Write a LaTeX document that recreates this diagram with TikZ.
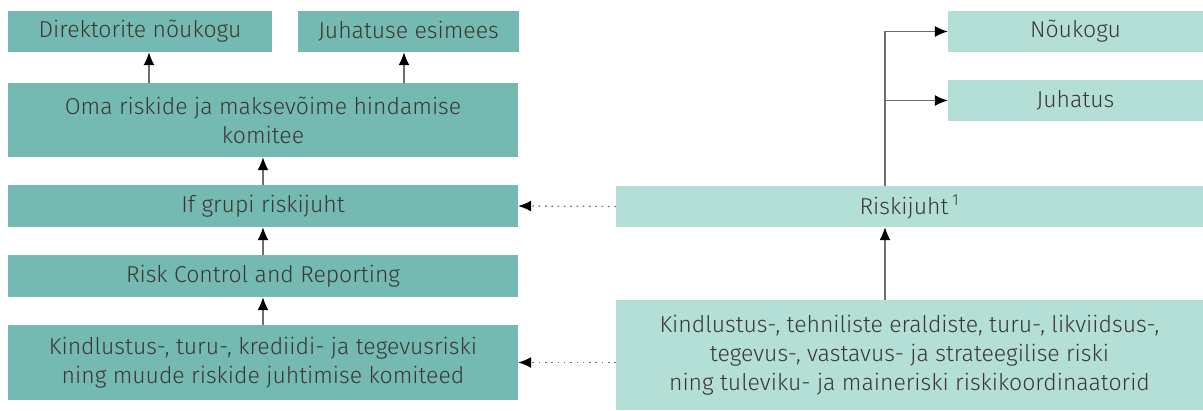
\documentclass[tikz,border=0pt]{standalone}
\usepackage{fontspec}
\setmainfont{Fira Sans}[UprightFont=* Light]
\usetikzlibrary{arrows.meta}

\definecolor{tealdark}{HTML}{74BAB2}
\definecolor{teallight}{HTML}{B4DFD6}
\definecolor{txtgrey}{HTML}{3B3632}
\definecolor{linegrey}{HTML}{6E6E6E}

\tikzset{
	orgbox/.style={rectangle, inner sep=0pt, text=txtgrey, align=center,
		font=\fontsize{23}{29}\selectfont},
	boxdark/.style={orgbox, fill=tealdark},
	boxlight/.style={orgbox, fill=teallight},
	link/.style={draw=linegrey, line width=1.3pt, -{Latex[length=13pt,width=11pt,color=black]}},
	dotlink/.style={link, dash pattern=on 1.5pt off 4.8pt},
}

\begin{document}
\begin{tikzpicture}[x=1pt,y=-1pt]
		\useasboundingbox (0,0) rectangle (1203,410);
		% left column
		\node[boxdark, minimum width=264pt, minimum height=41pt] (direk) at (140,31.5) {Direktorite nõukogu};
		\node[boxdark, minimum width=221pt, minimum height=41pt] (esimees) at (408.5,31.5) {Juhatuse esimees};
		\node[boxdark, minimum width=510pt, minimum height=74pt] (oma) at (263,120) {Oma riskide ja maksevõime hindamise\\komitee};
		\node[boxdark, minimum width=510pt, minimum height=42pt] (grupi) at (263,206) {If grupi riskijuht};
		\node[boxdark, minimum width=510pt, minimum height=42pt] (rcr) at (263,276) {Risk Control and Reporting};
		\node[boxdark, minimum width=510pt, minimum height=75pt] (komiteed) at (263,362.5) {Kindlustus-, turu-, krediidi- ja tegevusriski\\ning muude riskide juhtimise komiteed};
		% right column
		\node[boxlight, minimum width=255pt, minimum height=41pt] (noukogu) at (1075.5,31.5) {Nõukogu};
		\node[boxlight, minimum width=255pt, minimum height=41pt] (juhatus) at (1075.5,100.5) {Juhatus};
		\node[boxlight, minimum width=587pt, minimum height=41pt] (riskijuht) at (909.5,206.5) {Riskijuht\,\textsuperscript{1}};
		\node[boxlight, minimum width=587pt, minimum height=110pt] (koord) at (909.5,355) {Kindlustus-, tehniliste eraldiste, turu-, likviidsus-,\\tegevus-, vastavus- ja strateegilise riski\\ning tuleviku- ja maineriski riskikoordinaatorid};

		\coordinate (up1) at (149,0);
		\coordinate (up2) at (404,0);
		\coordinate (trunk) at (885,0);

		% left arrows
		\draw[link] (up1 |- oma.north) -- (up1 |- direk.south);
		\draw[link] (up2 |- oma.north) -- (up2 |- esimees.south);
		\draw[link] (grupi.north) -- (oma.south);
		\draw[link] (rcr.north) -- (grupi.south);
		\draw[link] (komiteed.north) -- (rcr.south);
		% dotted links
		\draw[dotlink] (riskijuht.west) -- (grupi.east);
		\draw[dotlink] (koord.west |- komiteed.east) -- (komiteed.east);
		% right tree
		\draw[link] (trunk |- riskijuht.north) -- (trunk |- noukogu.west) -- (noukogu.west);
		\draw[link] (trunk |- juhatus.west) -- (juhatus.west);
		\draw[link] (trunk |- koord.north) -- (trunk |- riskijuht.south);
\end{tikzpicture}
\end{document}
